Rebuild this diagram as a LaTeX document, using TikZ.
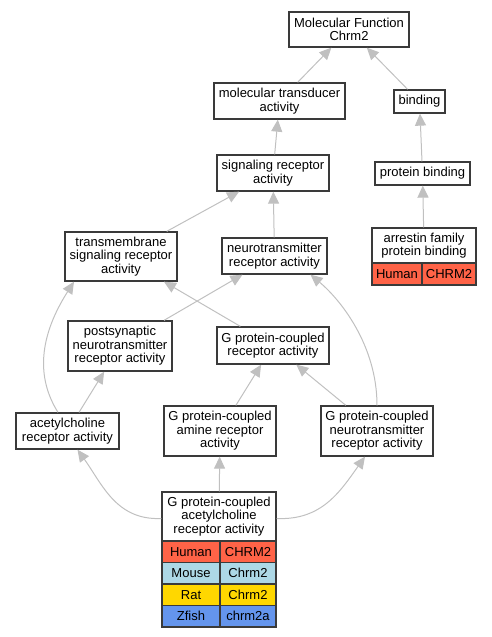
\documentclass[tikz,border=0pt]{standalone}
\usepackage{fontspec}
\setmainfont{Liberation Sans}
\usetikzlibrary{arrows.meta}
\definecolor{boxc}{HTML}{3A3A3A}
\definecolor{edgec}{HTML}{C0C0C0}
\definecolor{humanc}{HTML}{FF6347}
\definecolor{mousec}{HTML}{ADD8E6}
\definecolor{ratc}{HTML}{FFD700}
\definecolor{zfishc}{HTML}{6495ED}
\tikzset{
  term/.style={draw=boxc, line width=1.3pt, fill=white, align=center, inner sep=0pt,
    font=\fontsize{13}{13.6}\selectfont},
  cell/.style={term, font=\fontsize{13}{13.6}\selectfont},
  edge/.style={draw=edgec, line width=1pt, -{Triangle[length=12pt,width=11pt]}},
}
\begin{document}
\begin{tikzpicture}[x=1pt,y=-1pt]
\useasboundingbox (0,0) rectangle (492,637);
% nodes
\node[term, minimum width=120pt, minimum height=35pt] (mf) at (349,29.5) {Molecular Function\\Chrm2};
\node[term, minimum width=131pt, minimum height=36pt] (mt) at (279.5,101) {molecular transducer\\activity};
\node[term, minimum width=51pt, minimum height=23pt] (bind) at (419.5,101.5) {binding};
\node[term, minimum width=112pt, minimum height=36pt] (sig) at (273,173) {signaling receptor\\activity};
\node[term, minimum width=95pt, minimum height=23pt] (pb) at (422.5,173.5) {protein binding};
\node[term, minimum width=112pt, minimum height=49pt] (tm) at (121,256.5) {transmembrane\\signaling receptor\\activity};
\node[term, minimum width=105pt, minimum height=36pt] (nt) at (274.5,256) {neurotransmitter\\receptor activity};
\node[term, minimum width=104pt, minimum height=35pt] (arr) at (424,245.5) {arrestin family\\protein binding};
\node[cell, fill=humanc, minimum width=50pt, minimum height=22pt] (arrh) at (397,274) {Human};
\node[cell, fill=humanc, minimum width=54pt, minimum height=22pt] (arrg) at (449,274) {CHRM2};
\node[term, minimum width=104pt, minimum height=50pt] (ps) at (120,346) {postsynaptic\\neurotransmitter\\receptor activity};
\node[term, minimum width=112pt, minimum height=37pt] (gpcr) at (273,345.5) {G protein-coupled\\receptor activity};
\node[term, minimum width=103pt, minimum height=36pt] (ach) at (67.5,431) {acetylcholine\\receptor activity};
\node[term, minimum width=112pt, minimum height=50pt] (amine) at (220,431) {G protein-coupled\\amine receptor\\activity};
\node[term, minimum width=112pt, minimum height=50pt] (gpnt) at (377,431) {G protein-coupled\\neurotransmitter\\receptor activity};
\node[term, minimum width=114pt, minimum height=49pt] (bot) at (219,516.5) {G protein-coupled\\acetylcholine\\receptor activity};
\node[cell, fill=humanc, minimum width=58pt, minimum height=21.5pt] (h1) at (191,551.75) {Human};
\node[cell, fill=humanc, minimum width=56pt, minimum height=21.5pt] (h2) at (248,551.75) {CHRM2};
\node[cell, fill=mousec, minimum width=58pt, minimum height=21.5pt] (m1) at (191,573.25) {Mouse};
\node[cell, fill=mousec, minimum width=56pt, minimum height=21.5pt] (m2) at (248,573.25) {Chrm2};
\node[cell, fill=ratc, minimum width=58pt, minimum height=21.5pt] (r1) at (191,594.75) {Rat};
\node[cell, fill=ratc, minimum width=56pt, minimum height=21.5pt] (r2) at (248,594.75) {Chrm2};
\node[cell, fill=zfishc, minimum width=58pt, minimum height=21.5pt] (z1) at (191,616.25) {Zfish};
\node[cell, fill=zfishc, minimum width=56pt, minimum height=21.5pt] (z2) at (248,616.25) {chrm2a};
% edges
\draw[edge] (mt) -- (mf);
\draw[edge] (bind) -- (mf);
\draw[edge] (sig) -- (mt);
\draw[edge] (pb) -- (bind);
\draw[edge] (arr) -- (pb);
\draw[edge] (tm) -- (sig);
\draw[edge] (nt) -- (sig);
\draw[edge] (ps) -- (nt);
\draw[edge] (gpcr) -- (tm);
\draw[edge] (ach) -- (ps);
\draw[edge] (amine) -- (gpcr);
\draw[edge] (gpnt) -- (gpcr);
\draw[edge] (bot) -- (amine);
\draw[edge] ([xshift=-9.5pt]ach.north) .. controls +(-22,-35) and +(-35,55) .. ([xshift=-47pt]tm.south);
\draw[edge] (gpnt.north) .. controls +(0,-60) and +(30,25) .. ([xshift=36pt]nt.south);
\draw[edge] ([yshift=-2pt]bot.west) .. controls +(-45,2) and +(25,35) .. ([xshift=10pt]ach.south);
\draw[edge] ([yshift=-2pt]bot.east) .. controls +(45,2) and +(-25,35) .. ([xshift=-12pt]gpnt.south);
\end{tikzpicture}
\end{document}
